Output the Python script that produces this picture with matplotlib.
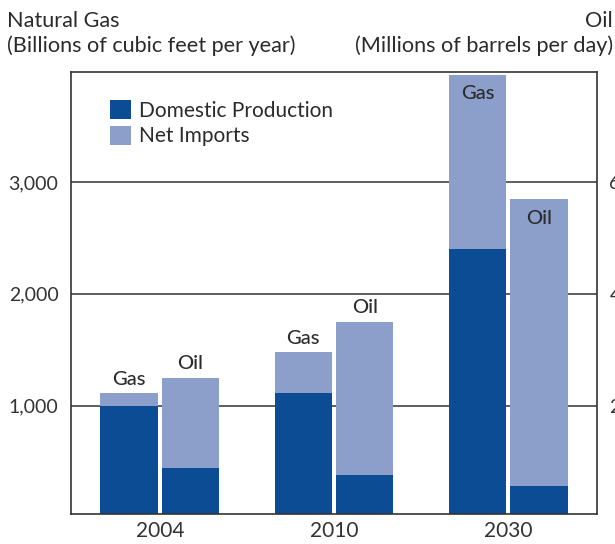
import matplotlib
matplotlib.use("Agg")
import matplotlib.pyplot as plt
from matplotlib.patches import Patch
import numpy as np

# Data
years = ["2004", "2010", "2030"]
gas_domestic = [1000, 1110, 2400]        # billions of cubic feet per year
gas_imports = [110, 365, 1560]
oil_domestic = [0.88, 0.76, 0.56]        # millions of barrels per day
oil_imports = [1.62, 2.74, 5.13]
oil_ticks = [2, 4, 6]

GAS_PER_OIL = 500  # 2 million bbl/day lines up with 1,000 bcf/yr

dark = "#0b4c94"
light = "#8c9fca"
ink = "#2b2b2b"
font = "Lato"

plt.rcParams["font.family"] = [font, "DejaVu Sans"]

fig = plt.figure(figsize=(6.15, 5.44), dpi=100)
ax = fig.add_axes([0.1154, 0.0551, 0.8553, 0.8125])

x = np.arange(len(years))
w = 0.33
off = 0.176

gd = np.array(gas_domestic, float)
gi = np.array(gas_imports, float)
od = np.array(oil_domestic) * GAS_PER_OIL
oi = np.array(oil_imports) * GAS_PER_OIL

ax.bar(x - off, gd, w, color=dark, zorder=3, linewidth=0)
ax.bar(x - off, gi, w, bottom=gd, color=light, zorder=3, linewidth=0)
ax.bar(x + off, od, w, color=dark, zorder=3, linewidth=0)
ax.bar(x + off, oi, w, bottom=od, color=light, zorder=3, linewidth=0)

ax.set_xlim(-0.51, 2.51)
ax.set_ylim(29, 3984)
ax.set_yticks([1000, 2000, 3000])
ax.set_yticklabels(["1,000", "2,000", "3,000"])
ax.set_xticks(x)
ax.set_xticklabels(years)
ax.tick_params(axis="both", length=0, colors="#333333")
ax.tick_params(axis="y", pad=9, labelsize=14)
ax.tick_params(axis="x", pad=5, labelsize=15)
ax.grid(axis="y", color="#333333", linewidth=1.1, zorder=1)
for s in ax.spines.values():
    s.set_color("#333333")
    s.set_linewidth(1.2)
    s.set_zorder(4)

# Right-hand oil scale
ax2 = ax.twinx()
ax2.set_ylim(np.array(ax.get_ylim()) / GAS_PER_OIL)
ax2.set_yticks(oil_ticks)
ax2.set_yticklabels([str(t) for t in oil_ticks])
ax2.tick_params(axis="y", length=0, labelsize=14, colors="#333333", pad=9)
for s in ax2.spines.values():
    s.set_visible(False)

# Bar captions
lbl = dict(ha="center", fontsize=14.5, color=ink, fontweight="medium", zorder=5)
gas_tot = gd + gi
oil_tot = od + oi
for i in range(len(years)):
    if gas_tot[i] > 3700:
        ax.text(x[i] - off, gas_tot[i] - 95, "Gas", va="top", **lbl)
    else:
        ax.text(x[i] - off, gas_tot[i] + 50, "Gas", va="bottom", **lbl)
    if oil_tot[i] > 2600:
        ax.text(x[i] + off, oil_tot[i] - 95, "Oil", va="top", **lbl)
    else:
        ax.text(x[i] + off, oil_tot[i] + 50, "Oil", va="bottom", **lbl)

# Legend
handles = [Patch(facecolor=dark, edgecolor="none", label="Domestic Production"),
           Patch(facecolor=light, edgecolor="none", label="Net Imports")]
leg = ax.legend(handles=handles, loc="upper left", bbox_to_anchor=(0.074, 0.936),
                frameon=False, fontsize=15, handlelength=1.0, handleheight=1.0,
                handletextpad=0.42, labelspacing=0.25, borderpad=0, borderaxespad=0)
for t in leg.get_texts():
    t.set_color(ink)

# Axis headings
head = dict(fontsize=15.6, color=ink)
fig.text(7 / 615, 1 - 21 / 544, "Natural Gas", ha="left", va="center", **head)
fig.text(7 / 615, 1 - 46 / 544, "(Billions of cubic feet per year)", ha="left", va="center", **head)
fig.text(613 / 615, 1 - 21 / 544, "Oil", ha="right", va="center", **head)
fig.text(613 / 615, 1 - 46 / 544, "(Millions of barrels per day)", ha="right", va="center", **head)

fig.savefig("out.png", dpi=100)
